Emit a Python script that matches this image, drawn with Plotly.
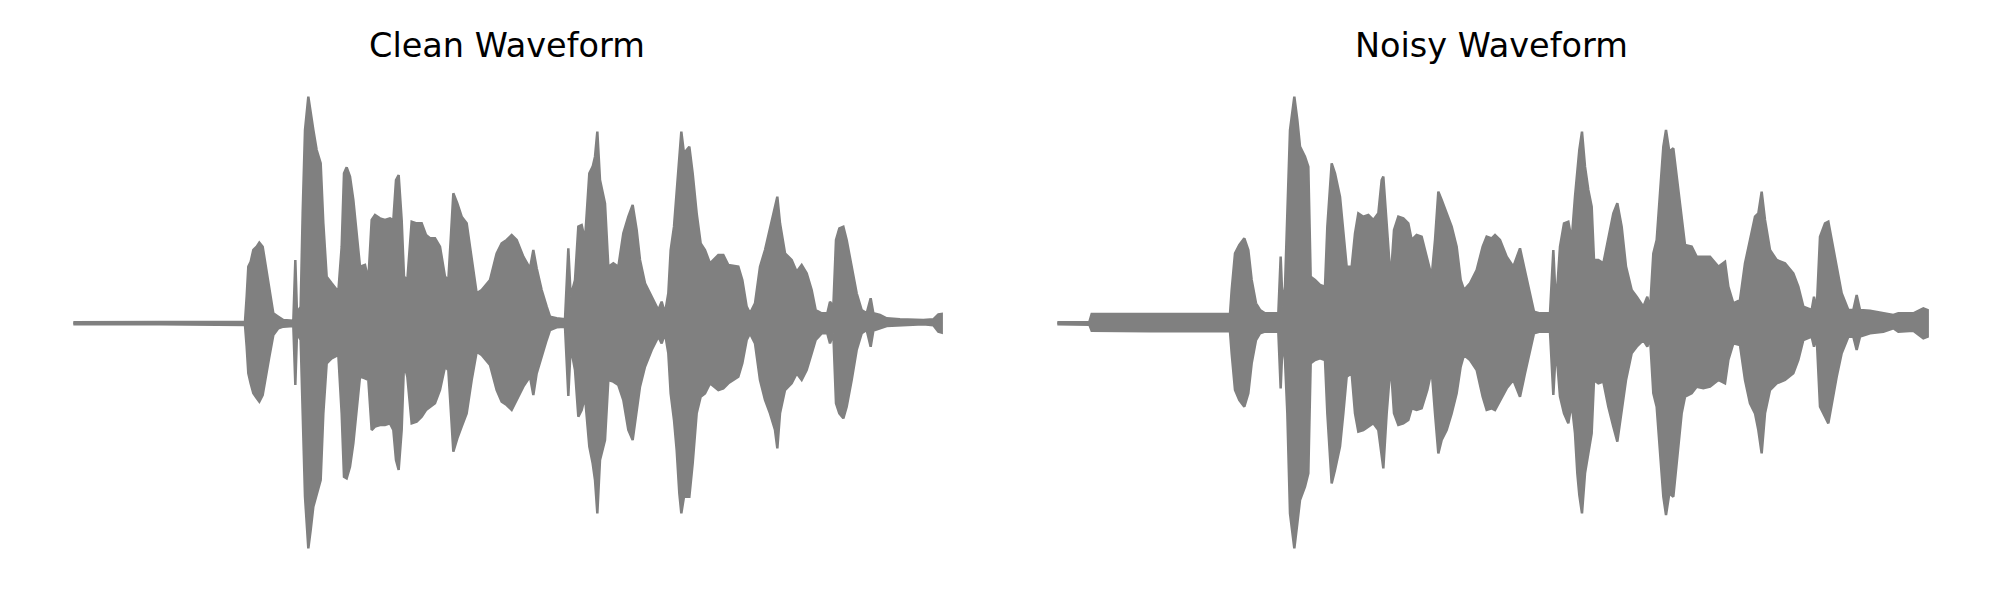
import plotly.graph_objects as go

# ---- Clean waveform envelope (time in s, amplitude) ----
clean_t = [0.001, 0.261, 0.516, 0.521, 0.526, 0.533, 0.541, 0.551, 0.559, 0.569,
           0.579, 0.589, 0.601, 0.616, 0.631, 0.661, 0.667, 0.672, 0.683, 0.689,
           0.696, 0.706, 0.713, 0.721, 0.731, 0.743, 0.751, 0.761, 0.776, 0.796,
           0.806, 0.813, 0.821, 0.831, 0.841, 0.851, 0.861, 0.876, 0.886, 0.896,
           0.906, 0.921, 0.936, 0.951, 0.961, 0.969, 0.977, 0.986, 0.993, 1.003,
           1.016, 1.031, 1.046, 1.059, 1.071, 1.086, 1.101, 1.116, 1.126, 1.133,
           1.141, 1.153, 1.166, 1.181, 1.196, 1.211, 1.226, 1.251, 1.271, 1.286,
           1.301, 1.316, 1.331, 1.351, 1.371, 1.381, 1.391, 1.406, 1.421, 1.431,
           1.451, 1.476, 1.486, 1.493, 1.506, 1.516, 1.526, 1.536, 1.549, 1.559,
           1.566, 1.573, 1.581, 1.596, 1.606, 1.621, 1.636, 1.651, 1.666, 1.679,
           1.691, 1.701, 1.716, 1.736, 1.756, 1.766, 1.776, 1.786, 1.793, 1.803,
           1.811, 1.819, 1.825, 1.833, 1.849, 1.859, 1.871, 1.883, 1.896, 1.911,
           1.936, 1.951, 1.966, 1.996, 2.008, 2.021, 2.031, 2.046, 2.061, 2.076,
           2.091, 2.106, 2.113, 2.121, 2.136, 2.156, 2.171, 2.186, 2.201, 2.216,
           2.228, 2.246, 2.263, 2.271, 2.281, 2.289, 2.299, 2.311, 2.321, 2.336,
           2.351, 2.366, 2.381, 2.393, 2.401, 2.421, 2.441, 2.481, 2.551, 2.581,
           2.596, 2.606]
clean_upper = [0.003, 0.003, 0.005, 0.080, 0.170, 0.185, 0.220, 0.230, 0.242, 0.230,
               0.170, 0.100, 0.030, 0.020, 0.010, 0.008, 0.190, 0.030, 0.050, 0.330,
               0.580, 0.680, 0.630, 0.580, 0.520, 0.480, 0.300, 0.140, 0.120, 0.095,
               0.230, 0.450, 0.468, 0.440, 0.370, 0.280, 0.170, 0.175, 0.130, 0.310,
               0.325, 0.315, 0.310, 0.315, 0.310, 0.430, 0.445, 0.310, 0.140, 0.130,
               0.305, 0.300, 0.300, 0.265, 0.255, 0.255, 0.230, 0.140, 0.130, 0.250,
               0.390, 0.360, 0.320, 0.300, 0.200, 0.090, 0.100, 0.130, 0.210, 0.240,
               0.250, 0.265, 0.250, 0.200, 0.165, 0.220, 0.165, 0.100, 0.050, 0.020,
               0.015, 0.012, 0.225, 0.080, 0.130, 0.290, 0.295, 0.250, 0.450, 0.470,
               0.500, 0.575, 0.430, 0.360, 0.170, 0.180, 0.170, 0.270, 0.320, 0.355,
               0.280, 0.190, 0.120, 0.080, 0.040, 0.065, 0.030, 0.090, 0.220, 0.290,
               0.400, 0.520, 0.575, 0.510, 0.530, 0.450, 0.330, 0.240, 0.220, 0.180,
               0.205, 0.205, 0.175, 0.170, 0.130, 0.050, 0.030, 0.060, 0.170, 0.220,
               0.290, 0.350, 0.380, 0.300, 0.210, 0.190, 0.155, 0.175, 0.150, 0.100,
               0.040, 0.030, 0.030, 0.065, 0.050, 0.250, 0.285, 0.290, 0.250, 0.170,
               0.090, 0.040, 0.030, 0.075, 0.030, 0.025, 0.015, 0.012, 0.010, 0.012,
               0.027, 0.028]
clean_lower = [-0.003, -0.003, -0.005, -0.070, -0.150, -0.180, -0.210, -0.225, -0.235, -0.215,
               -0.160, -0.100, -0.035, -0.015, -0.010, -0.008, -0.185, -0.030, -0.050, -0.270,
               -0.520, -0.675, -0.620, -0.550, -0.510, -0.470, -0.270, -0.120, -0.105, -0.095,
               -0.270, -0.460, -0.465, -0.430, -0.360, -0.270, -0.160, -0.165, -0.170, -0.320,
               -0.310, -0.305, -0.305, -0.300, -0.320, -0.410, -0.440, -0.320, -0.120, -0.160,
               -0.300, -0.295, -0.280, -0.260, -0.250, -0.240, -0.200, -0.130, -0.140, -0.270,
               -0.385, -0.345, -0.310, -0.270, -0.170, -0.085, -0.095, -0.125, -0.200, -0.235,
               -0.245, -0.260, -0.230, -0.190, -0.160, -0.215, -0.150, -0.100, -0.050, -0.020,
               -0.012, -0.010, -0.218, -0.070, -0.140, -0.280, -0.260, -0.220, -0.370, -0.420,
               -0.470, -0.570, -0.410, -0.350, -0.170, -0.175, -0.185, -0.230, -0.320, -0.350,
               -0.270, -0.190, -0.130, -0.080, -0.040, -0.060, -0.030, -0.090, -0.210, -0.290,
               -0.380, -0.510, -0.570, -0.520, -0.520, -0.420, -0.270, -0.220, -0.210, -0.180,
               -0.200, -0.195, -0.180, -0.160, -0.120, -0.050, -0.030, -0.060, -0.170, -0.230,
               -0.270, -0.320, -0.375, -0.270, -0.200, -0.180, -0.150, -0.170, -0.140, -0.090,
               -0.050, -0.030, -0.030, -0.060, -0.030, -0.240, -0.270, -0.285, -0.250, -0.170,
               -0.080, -0.030, -0.020, -0.070, -0.022, -0.015, -0.008, -0.005, -0.003, -0.006,
               -0.025, -0.028]

# ---- Noisy waveform envelope (time in s, amplitude) ----
noisy_t = [0.001, 0.097, 0.104, 0.279, 0.519, 0.524, 0.534, 0.547, 0.562, 0.574,
           0.584, 0.597, 0.609, 0.624, 0.664, 0.671, 0.677, 0.684, 0.691, 0.699,
           0.712, 0.721, 0.729, 0.744, 0.754, 0.761, 0.774, 0.789, 0.804, 0.811,
           0.824, 0.834, 0.849, 0.859, 0.869, 0.884, 0.894, 0.904, 0.919, 0.934,
           0.949, 0.964, 0.974, 0.979, 0.989, 1.001, 1.011, 1.024, 1.039, 1.054,
           1.064, 1.079, 1.094, 1.111, 1.124, 1.134, 1.144, 1.154, 1.169, 1.184,
           1.199, 1.211, 1.221, 1.239, 1.259, 1.277, 1.289, 1.304, 1.314, 1.329,
           1.349, 1.369, 1.389, 1.404, 1.419, 1.431, 1.449, 1.479, 1.489, 1.497,
           1.509, 1.521, 1.534, 1.544, 1.554, 1.561, 1.567, 1.575, 1.584, 1.594,
           1.604, 1.611, 1.624, 1.639, 1.654, 1.669, 1.681, 1.694, 1.707, 1.724,
           1.739, 1.759, 1.771, 1.779, 1.789, 1.799, 1.809, 1.819, 1.827, 1.837,
           1.849, 1.859, 1.874, 1.884, 1.904, 1.919, 1.939, 1.959, 1.984, 2.004,
           2.014, 2.029, 2.049, 2.064, 2.079, 2.094, 2.104, 2.114, 2.124, 2.139,
           2.159, 2.184, 2.209, 2.224, 2.239, 2.264, 2.271, 2.279, 2.289, 2.304,
           2.314, 2.324, 2.339, 2.354, 2.374, 2.389, 2.399, 2.409, 2.439, 2.479,
           2.509, 2.524, 2.569, 2.599, 2.612]
noisy_upper = [0.003, 0.004, 0.028, 0.028, 0.028, 0.100, 0.210, 0.235, 0.255, 0.220,
               0.130, 0.060, 0.040, 0.030, 0.030, 0.200, 0.050, 0.110, 0.310, 0.580,
               0.680, 0.610, 0.530, 0.500, 0.470, 0.140, 0.130, 0.115, 0.110, 0.290,
               0.480, 0.450, 0.380, 0.280, 0.170, 0.170, 0.270, 0.330, 0.320, 0.325,
               0.310, 0.330, 0.430, 0.440, 0.290, 0.130, 0.280, 0.320, 0.315, 0.300,
               0.250, 0.265, 0.260, 0.190, 0.140, 0.250, 0.395, 0.370, 0.330, 0.290,
               0.230, 0.130, 0.100, 0.120, 0.160, 0.230, 0.260, 0.255, 0.265, 0.250,
               0.200, 0.170, 0.225, 0.160, 0.090, 0.035, 0.030, 0.030, 0.220, 0.050,
               0.230, 0.300, 0.305, 0.250, 0.380, 0.460, 0.520, 0.575, 0.470, 0.400,
               0.350, 0.190, 0.190, 0.180, 0.260, 0.330, 0.360, 0.290, 0.170, 0.100,
               0.080, 0.050, 0.080, 0.040, 0.210, 0.250, 0.390, 0.530, 0.580, 0.515,
               0.525, 0.440, 0.330, 0.235, 0.230, 0.200, 0.200, 0.200, 0.170, 0.185,
               0.110, 0.060, 0.070, 0.180, 0.250, 0.320, 0.330, 0.395, 0.310, 0.220,
               0.190, 0.180, 0.150, 0.110, 0.050, 0.040, 0.080, 0.040, 0.260, 0.300,
               0.305, 0.250, 0.160, 0.090, 0.040, 0.040, 0.085, 0.040, 0.038, 0.030,
               0.025, 0.030, 0.030, 0.045, 0.040]
noisy_lower = [-0.003, -0.004, -0.022, -0.024, -0.024, -0.090, -0.200, -0.230, -0.250, -0.210,
               -0.120, -0.050, -0.030, -0.025, -0.025, -0.195, -0.050, -0.110, -0.270, -0.570,
               -0.675, -0.600, -0.530, -0.490, -0.450, -0.120, -0.110, -0.105, -0.110, -0.270,
               -0.480, -0.440, -0.370, -0.270, -0.160, -0.150, -0.270, -0.325, -0.320, -0.310,
               -0.300, -0.320, -0.400, -0.435, -0.270, -0.120, -0.270, -0.305, -0.300, -0.290,
               -0.255, -0.260, -0.255, -0.200, -0.140, -0.270, -0.390, -0.350, -0.320, -0.270,
               -0.210, -0.130, -0.095, -0.110, -0.140, -0.220, -0.260, -0.255, -0.260, -0.230,
               -0.195, -0.170, -0.220, -0.150, -0.080, -0.030, -0.025, -0.025, -0.215, -0.070,
               -0.220, -0.270, -0.300, -0.240, -0.330, -0.450, -0.515, -0.570, -0.450, -0.390,
               -0.330, -0.170, -0.180, -0.175, -0.250, -0.310, -0.355, -0.270, -0.170, -0.090,
               -0.070, -0.050, -0.070, -0.040, -0.210, -0.250, -0.370, -0.520, -0.575, -0.510,
               -0.520, -0.420, -0.270, -0.220, -0.210, -0.190, -0.195, -0.190, -0.170, -0.180,
               -0.110, -0.060, -0.065, -0.170, -0.240, -0.270, -0.320, -0.390, -0.270, -0.200,
               -0.180, -0.170, -0.150, -0.110, -0.050, -0.040, -0.070, -0.040, -0.250, -0.280,
               -0.300, -0.250, -0.160, -0.090, -0.040, -0.040, -0.080, -0.040, -0.030, -0.025,
               -0.015, -0.025, -0.022, -0.045, -0.040]

titles = ["Clean Waveform", "Noisy Waveform"]
GRAY = "#808080"

fig = go.Figure()


def add_wave(t, up, lo, xa, ya):
    fig.add_trace(go.Scatter(
        x=list(t) + list(t)[::-1],
        y=list(up) + list(lo)[::-1],
        fill="toself", fillcolor=GRAY,
        line=dict(color=GRAY, width=2.5),
        mode="lines", hoverinfo="skip", showlegend=False,
        xaxis=xa, yaxis=ya))


add_wave(clean_t, clean_upper, clean_lower, "x", "y")
add_wave(noisy_t, noisy_upper, noisy_lower, "x2", "y2")

hidden = dict(visible=False, showgrid=False, zeroline=False)
fig.update_layout(
    width=2000, height=600,
    margin=dict(l=0, r=0, t=0, b=0),
    paper_bgcolor="white", plot_bgcolor="white",
    xaxis=dict(domain=[0, 0.5], range=[-0.195, 2.805], **hidden),
    yaxis=dict(domain=[0, 1], range=[-0.854, 0.946], **hidden),
    xaxis2=dict(domain=[0.5, 1], range=[-0.147, 2.853], **hidden),
    yaxis2=dict(domain=[0, 1], range=[-0.854, 0.946], anchor="x2", **hidden),
    annotations=[
        dict(text=titles[0], x=0.2495, y=0.938, xref="paper", yref="paper",
             xanchor="center", yanchor="middle", showarrow=False,
             font=dict(family="DejaVu Sans", size=33.5, color="black")),
        dict(text=titles[1], x=0.7418, y=0.938, xref="paper", yref="paper",
             xanchor="center", yanchor="middle", showarrow=False,
             font=dict(family="DejaVu Sans", size=33.5, color="black")),
    ],
)

fig.write_html("out.html")
